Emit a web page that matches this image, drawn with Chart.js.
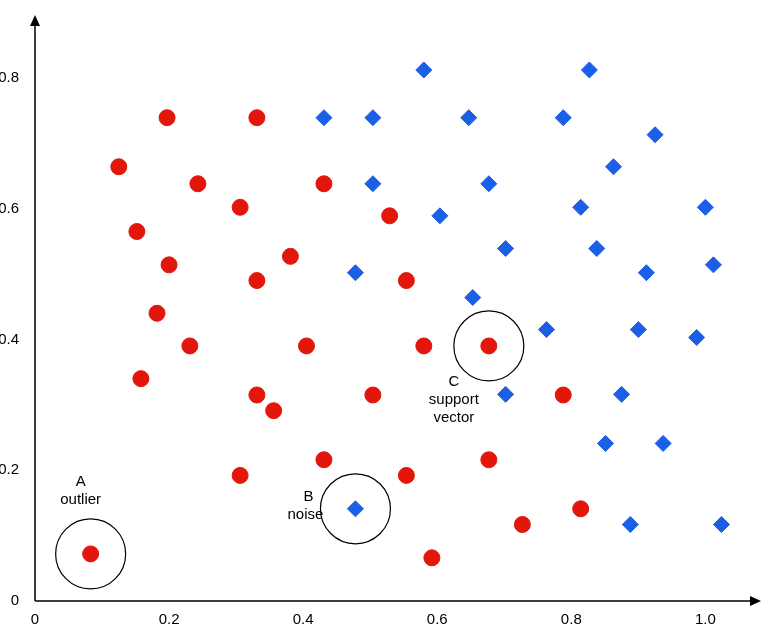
<!DOCTYPE html>
<html><head><meta charset="utf-8">
<script src="https://cdn.jsdelivr.net/npm/chart.js@4"></script>
<style>html,body{margin:0;padding:0;background:#fff}#w{width:768px;height:628px}</style>
</head><body><div id="w"><canvas id="c"></canvas></div>
<script>
const xTicks=[0,0.2,0.4,0.6,0.8,1.0];
const yTicks=[0,0.2,0.4,0.6,0.8];
const redX=[0.083,0.125,0.197,0.331,0.152,0.243,0.306,0.431,0.529,0.200,0.381,0.331,0.554,0.182,0.231,0.405,0.580,0.677,0.158,0.331,0.356,0.504,0.788,0.306,0.431,0.554,0.677,0.727,0.814,0.592];
const redY=[0.072,0.664,0.739,0.739,0.565,0.638,0.602,0.638,0.589,0.514,0.527,0.490,0.490,0.440,0.390,0.390,0.390,0.390,0.340,0.315,0.291,0.315,0.315,0.192,0.216,0.192,0.216,0.117,0.141,0.066];
const blueX=[0.580,0.827,0.431,0.504,0.647,0.788,0.925,0.504,0.677,0.863,0.604,0.814,1.0,0.702,0.838,0.478,0.912,1.012,0.653,0.763,0.900,0.987,0.702,0.875,0.851,0.937,0.478,0.888,1.024];
const blueY=[0.812,0.812,0.739,0.739,0.739,0.739,0.713,0.638,0.638,0.664,0.589,0.602,0.602,0.539,0.539,0.502,0.502,0.514,0.464,0.415,0.415,0.403,0.316,0.316,0.241,0.241,0.141,0.117,0.117];
const ringX=[0.083,0.478,0.677];
const ringY=[0.072,0.141,0.390];
const ringLabels=[["A","outlier"],["B","noise"],["C","support","vector"]];
const pts=(xs,ys)=>xs.map((x,i)=>({x,y:ys[i]}));
const FONT='"Liberation Sans", Arial, sans-serif';
const deco={id:'deco',afterDraw(ch){
  const c=ch.ctx,a=ch.chartArea,xs=ch.scales.x,ys=ch.scales.y;
  c.save();c.strokeStyle='#000';c.fillStyle='#000';c.lineWidth=1.5;
  const ox=xs.getPixelForValue(0),oy=ys.getPixelForValue(0);
  c.beginPath();c.moveTo(ox,oy);c.lineTo(a.right-2,oy);c.moveTo(ox,oy);c.lineTo(ox,a.top+2);c.stroke();
  c.beginPath();c.moveTo(a.right+2,oy);c.lineTo(a.right-9,oy-5);c.lineTo(a.right-9,oy+5);c.closePath();c.fill();
  c.beginPath();c.moveTo(ox,a.top-2);c.lineTo(ox-5,a.top+9);c.lineTo(ox+5,a.top+9);c.closePath();c.fill();
  c.lineWidth=1.2;
  ringX.forEach((x,i)=>{c.beginPath();c.arc(xs.getPixelForValue(x),ys.getPixelForValue(ringY[i]),35,0,Math.PI*2);c.stroke();});
  c.font='15px '+FONT;c.textAlign='center';c.textBaseline='alphabetic';
  const pos=[[-10,-68],[-50,-8],[-35,40]];
  ringLabels.forEach((L,i)=>{
    const px=xs.getPixelForValue(ringX[i]),py=ys.getPixelForValue(ringY[i]);
    const [dx,dy]=pos[i];
    L.forEach((t,j)=>c.fillText(t,px+dx+(i==1&&j==0?3:0),py+dy+j*18));
  });
  c.restore();
}};
new Chart(document.getElementById('c'),{
  type:'scatter',
  data:{datasets:[
    {data:pts(redX,redY),pointStyle:'circle',pointRadius:8,backgroundColor:'#e3160b',borderColor:'#e3160b'},
    {data:pts(blueX,blueY),pointStyle:'rectRot',pointRadius:8,backgroundColor:'#1b5fe6',borderColor:'#1b5fe6'}
  ]},
  options:{responsive:true,maintainAspectRatio:false,animation:false,
    layout:{padding:{top:5,right:8,left:0,bottom:0}},
    plugins:{legend:{display:false},tooltip:{enabled:false}},
    scales:{
      x:{type:'linear',min:0,max:1.08,grid:{display:false},border:{display:false},
        afterBuildTicks:s=>{s.ticks=xTicks.map(v=>({value:v}))},
        afterFit:s=>{s.height=27},
        ticks:{color:'#000',font:{size:15,family:FONT},padding:2,maxRotation:0,callback:v=>v==0?'0':(v==1?'1.0':String(v))}},
      y:{type:'linear',min:0,max:0.893,grid:{display:false},border:{display:false},
        afterBuildTicks:s=>{s.ticks=yTicks.map(v=>({value:v}))},
        afterFit:s=>{s.width=35},
        ticks:{color:'#000',font:{size:15,family:FONT},padding:8,callback:v=>v==0?'0':String(v)}}
    }},
  plugins:[deco]
});
</script></body></html>
